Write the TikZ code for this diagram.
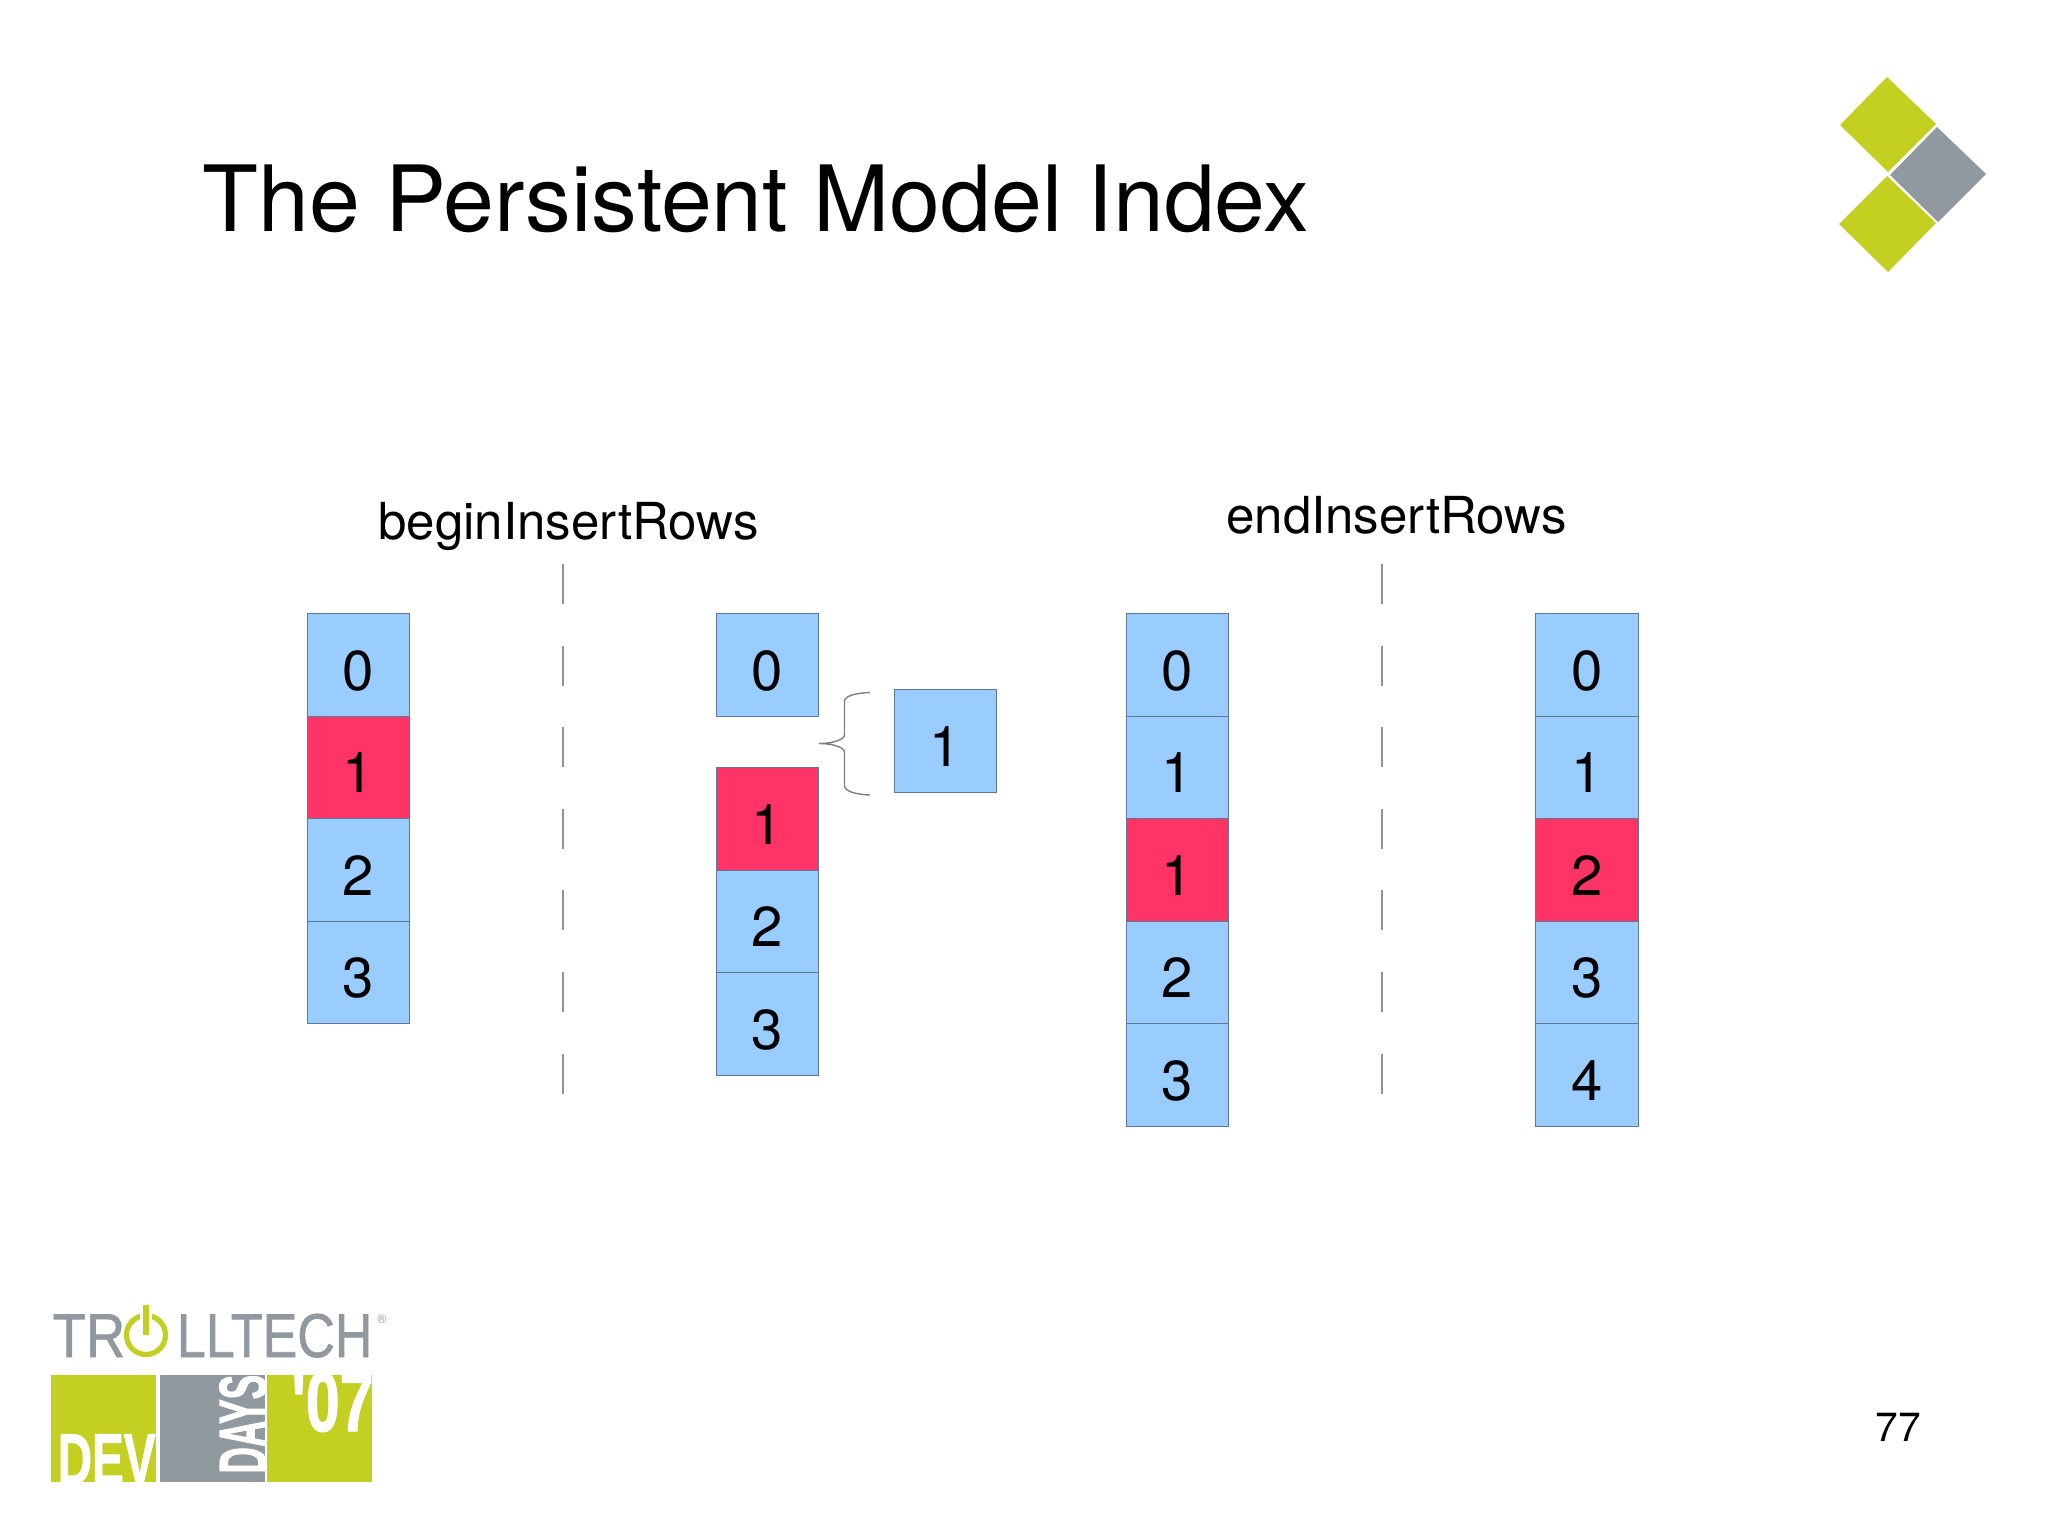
\documentclass[tikz,border=0pt]{standalone}
\usepackage{fontspec}
\setmainfont{TeX Gyre Heros}
\newfontfamily\logofont[FakeBold=1.2]{Liberation Sans}
\newfontfamily\logoheavy[BoldFeatures={FakeBold=1.6}]{Liberation Sans}
\definecolor{cellblue}{HTML}{99CCFF}
\definecolor{cellred}{HTML}{FF3366}
\definecolor{cellline}{HTML}{5F7896}
\definecolor{logogreen}{HTML}{C3D021}
\definecolor{logogray}{HTML}{9199A0}
\tikzset{
  cellbox/.style={draw=cellline,line width=.3pt,fill=cellblue,minimum size=1.025cm,inner sep=0pt,outer sep=0pt,font=\fontsize{16}{16}\selectfont,text height=14.4pt,text depth=0pt,text=black},
  hotbox/.style={cellbox,fill=cellred},
  gapline/.style={draw=gray!85,line width=.35pt,dash pattern=on 11.4pt off 11.8pt},
  headtext/.style={font=\fontsize{14.5}{16}\selectfont,text=black},
  logoname/.style={inner sep=0pt,text=logogray,font=\logofont\fontsize{17.6}{20}\selectfont,transform shape},
  logotext/.style={text=white,inner sep=0pt,transform shape}
}
\begin{document}
\begin{tikzpicture}[x=0.01cm,y=-0.01cm]
\useasboundingbox (0,0) rectangle (2048,1536);
% title and page number
\node[anchor=base west,inner sep=0pt,font=\fontsize{26}{30}\selectfont] (title) at (202,231) {The Persistent Model Index};
\node[font=\fontsize{11.6}{14}\selectfont] (page) at (1898,1427) {77};
% corner mark
\fill[logogreen] (1840,125)--(1887,77)--(1936,124)--(1888,172)--cycle;
\fill[logogray] (1890,175)--(1937,127)--(1986,174)--(1938,222)--cycle;
\fill[logogreen] (1839,224)--(1887,176)--(1936,223)--(1888,272)--cycle;
% headings
\node[headtext] (headbegin) at (568.5,526) {beginInsertRows};
\node[headtext] (headend) at (1396.5,515) {endInsertRows};
% dashed separators
\coordinate (gapA) at (563,564);
\coordinate (gapB) at (563,1094);
\coordinate (gapC) at (1382,564);
\coordinate (gapD) at (1382,1094);
\draw[gapline] (gapA)--(gapB);
\draw[gapline] (gapC)--(gapD);
% first column
\node[cellbox] (a0) at (358.5,665) {0};
\node[hotbox] (a1) at (358.5,767.5) {1};
\node[cellbox] (a2) at (358.5,870) {2};
\node[cellbox] (a3) at (358.5,972.5) {3};
% second column, split
\node[cellbox] (b0) at (767.5,665) {0};
\node[hotbox] (b1) at (767.5,819) {1};
\node[cellbox] (b2) at (767.5,921.5) {2};
\node[cellbox] (b3) at (767.5,1024) {3};
\node[cellbox] (bnew) at (945.5,741) {1};
% the brace
\coordinate (braceT) at (870,692.5);
\coordinate (braceM) at (819,743.5);
\coordinate (braceB) at (870,795);
\draw[gray,line width=.4pt] (braceT) .. controls (855,693) and (845,696) .. (844.5,701)
  -- (844.5,735) .. controls (844,740) and (832,743.5) .. (braceM)
  .. controls (832,743.5) and (844,747) .. (844.5,752)
  -- (844.5,786) .. controls (845,791) and (855,794.5) .. (braceB);
% third column
\node[cellbox] (c0) at (1177.5,665) {0};
\node[cellbox] (c1) at (1177.5,767.5) {1};
\node[hotbox] (c2) at (1177.5,870) {1};
\node[cellbox] (c3) at (1177.5,972.5) {2};
\node[cellbox] (c4) at (1177.5,1075) {3};
% fourth column
\node[cellbox] (d0) at (1587,665) {0};
\node[cellbox] (d1) at (1587,767.5) {1};
\node[hotbox] (d2) at (1587,870) {2};
\node[cellbox] (d3) at (1587,972.5) {3};
\node[cellbox] (d4) at (1587,1075) {4};
% logo
\node[logoname,anchor=base west,xscale=.88] (logoA) at (52,1357) {TR};
\node[logoname,anchor=base east,xscale=.84] (logoB) at (373,1357) {LLTECH};
\node[anchor=center,inner sep=0pt,text=logogray,font=\fontsize{3.5}{4}\selectfont] (logoR) at (382,1319) {®};
\draw[logogreen,line width=1.5pt] (146,1335) circle (19.5);
\draw[white,line width=3.5pt] (146,1305)--(146,1330);
\draw[logogreen,line width=1.5pt] (146,1305)--(146,1335);
\fill[logogreen] (51,1375) rectangle (156,1482);
\fill[logogray] (160,1375) rectangle (265,1482);
\fill[logogreen] (267,1375) rectangle (372,1482);
\begin{scope}
\clip (51,1375) rectangle (156,1482);
\node[logotext,anchor=base east,font=\logoheavy\fontsize{20.5}{20}\bfseries\selectfont,xscale=.66] (logoDev) at (156,1484) {DEV};
\end{scope}
\begin{scope}
\clip (160,1375) rectangle (265,1482);
\node[logotext,anchor=base west,rotate=90,font=\logoheavy\fontsize{19}{20}\bfseries\selectfont,xscale=.55] (logoDays) at (266,1474) {DAYS};
\end{scope}
\begin{scope}
\clip (267,1375) rectangle (372,1482);
\node[logotext,anchor=base east,font=\logoheavy\fontsize{24}{20}\bfseries\selectfont,xscale=.72] (logoYear) at (374,1431) {'07};
\end{scope}
\end{tikzpicture}
\end{document}
